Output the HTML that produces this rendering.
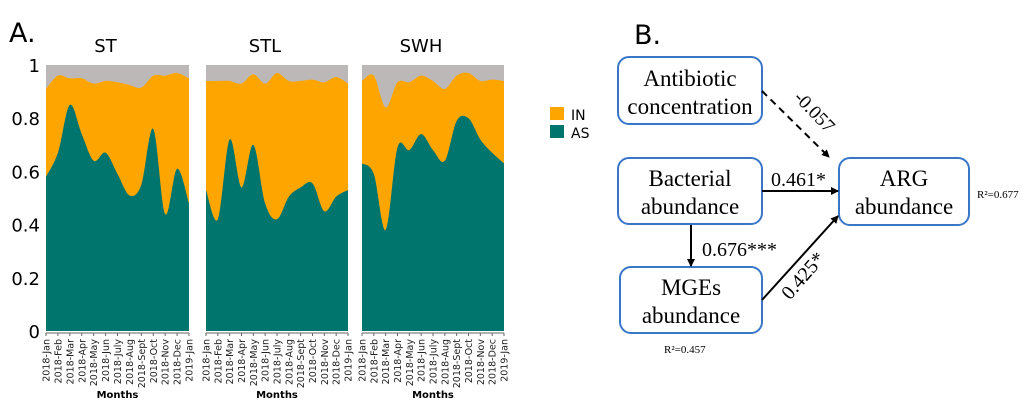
<!DOCTYPE html>
<html><head><meta charset="utf-8"><style>
html,body{margin:0;padding:0;background:#fff;width:1031px;height:406px;overflow:hidden}
svg{display:block}
.sans{font-family:"DejaVu Sans","Liberation Sans",sans-serif}
.serif{font-family:"Liberation Serif",serif}
</style></head><body>
<svg id="fig" width="1031" height="406" viewBox="0 0 1031 406">
<text x="9" y="42" class="sans" font-size="27">A.</text>
<text x="634" y="44" class="sans" font-size="27">B.</text>
<g id="chartA"></g>
<g>
<rect x="550" y="107" width="14" height="13" fill="#FFA500"/>
<text x="571" y="120" class="sans" font-size="14">IN</text>
<rect x="550" y="125" width="14" height="13" fill="#00756E"/>
<text x="571" y="138" class="sans" font-size="14">AS</text>
</g>
<g>
<defs><marker id="ah" markerWidth="8" markerHeight="8" refX="7" refY="4" orient="auto" markerUnits="userSpaceOnUse"><path d="M0,0 L8,4 L0,8 z" fill="#000"/></marker></defs>
<rect x="618" y="57" width="144" height="67" rx="11" fill="#fff" stroke="#3a76c8" stroke-width="2"/>
<text class="serif" font-size="23" text-anchor="middle"><tspan x="690" y="86">Antibiotic</tspan><tspan x="690" y="114">concentration</tspan></text>
<rect x="618" y="158" width="144" height="66" rx="11" fill="#fff" stroke="#3a76c8" stroke-width="2"/>
<text class="serif" font-size="23" text-anchor="middle"><tspan x="690" y="186">Bacterial</tspan><tspan x="690" y="214">abundance</tspan></text>
<rect x="620" y="267" width="142" height="66" rx="11" fill="#fff" stroke="#3a76c8" stroke-width="2"/>
<text class="serif" font-size="23" text-anchor="middle"><tspan x="691" y="295">MGEs</tspan><tspan x="691" y="323">abundance</tspan></text>
<rect x="839" y="158" width="130" height="67" rx="11" fill="#fff" stroke="#3a76c8" stroke-width="2"/>
<text class="serif" font-size="23" text-anchor="middle"><tspan x="904" y="186">ARG</tspan><tspan x="904" y="214">abundance</tspan></text>
<line x1="762" y1="91" x2="829" y2="157" stroke="#000" stroke-width="2" stroke-dasharray="7,5" marker-end="url(#ah)"/>
<line x1="762" y1="191" x2="838" y2="191" stroke="#000" stroke-width="2" marker-end="url(#ah)"/>
<line x1="691" y1="225" x2="691" y2="266" stroke="#000" stroke-width="2" marker-end="url(#ah)"/>
<line x1="762" y1="300" x2="838" y2="216" stroke="#000" stroke-width="2" marker-end="url(#ah)"/>
<text class="serif" font-size="19" transform="translate(810,116) rotate(46)" text-anchor="middle">-0.057</text>
<text x="771" y="186" class="serif" font-size="20">0.461*</text>
<text x="702" y="256" class="serif" font-size="20">0.676***</text>
<text class="serif" font-size="20" transform="translate(808,280) rotate(-49)" text-anchor="middle">0.425*</text>
<text x="977" y="198" class="serif" font-size="11">R²=0.677</text>
<text x="664" y="353" class="serif" font-size="11">R²=0.457</text>
</g>
</svg>
<script>
const months = ["2018-Jan","2018-Feb","2018-Mar","2018-Apr","2018-May","2018-Jun","2018-July","2018-Aug","2018-Sept","2018-Oct","2018-Nov","2018-Dec","2019-Jan"];
const panelNames = ["ST","STL","SWH"];
const asST = [0.58,0.67,0.85,0.74,0.64,0.67,0.59,0.51,0.55,0.76,0.44,0.61,0.48];
const inST = [0.91,0.96,0.95,0.95,0.93,0.94,0.935,0.925,0.915,0.96,0.96,0.97,0.95];
const asSTL = [0.53,0.42,0.72,0.54,0.70,0.48,0.42,0.505,0.54,0.555,0.45,0.505,0.53];
const inSTL = [0.94,0.94,0.94,0.93,0.965,0.93,0.97,0.94,0.94,0.945,0.935,0.955,0.93];
const asSWH = [0.63,0.59,0.38,0.69,0.68,0.74,0.68,0.64,0.79,0.80,0.72,0.67,0.63];
const inSWH = [0.94,0.96,0.84,0.935,0.935,0.96,0.94,0.91,0.96,0.97,0.94,0.945,0.94];
const yTicks = [0,0.2,0.4,0.6,0.8,1];
const yTickLabels = ["0","0.2","0.4","0.6","0.8","1"];

const NS="http://www.w3.org/2000/svg";
const g=document.getElementById('chartA');
const panels=[{x0:46,x1:189,as:asST,inn:inST},{x0:206,x1:348,as:asSTL,inn:inSTL},{x0:362,x1:504,as:asSWH,inn:inSWH}];
const yTop=65,yBot=331;
function yS(v){return yBot-(yBot-yTop)*v;}
function mk(tag,attrs){const e=document.createElementNS(NS,tag);for(const k in attrs)e.setAttribute(k,attrs[k]);return e;}
function smooth(pts){
  let d="M"+pts[0][0]+","+pts[0][1];
  for(let i=0;i<pts.length-1;i++){
    const p0=pts[Math.max(0,i-1)],p1=pts[i],p2=pts[i+1],p3=pts[Math.min(pts.length-1,i+2)];
    const c1=[p1[0]+(p2[0]-p0[0])/6,p1[1]+(p2[1]-p0[1])/6];
    const c2=[p2[0]-(p3[0]-p1[0])/6,p2[1]-(p3[1]-p1[1])/6];
    d+=" C"+c1[0]+","+c1[1]+" "+c2[0]+","+c2[1]+" "+p2[0]+","+p2[1];
  }
  return d;
}
yTicks.forEach((t,i)=>{
  const tx=mk('text',{x:40,y:yS(t)+7,'text-anchor':'end','font-size':'18',class:'sans'});
  
  
  tx.textContent=yTickLabels[i];g.appendChild(tx);
});
panels.forEach((p,pi)=>{
  const xS=i=>p.x0+(p.x1-p.x0)*i/(months.length-1);
  const pg=mk('g',{});
  
  
  g.appendChild(pg);
  const title=mk('text',{x:(p.x0+p.x1)/2-12,y:52,'text-anchor':'middle','font-size':'18',class:'sans'});
  
  
  title.textContent=panelNames[pi];pg.appendChild(title);
  const gray=mk('rect',{x:p.x0,y:yTop,width:p.x1-p.x0,height:yBot-yTop,fill:'#BDB8B8'});
  
  
  pg.appendChild(gray);
  const inPts=p.inn.map((v,i)=>[xS(i),yS(v)]);
  const inPath=mk('path',{d:smooth(inPts)+" L"+p.x1+","+yBot+" L"+p.x0+","+yBot+" Z",fill:'#FFA500'});
  
  
  pg.appendChild(inPath);
  const asPts=p.as.map((v,i)=>[xS(i),yS(v)]);
  const asPath=mk('path',{d:smooth(asPts)+" L"+p.x1+","+yBot+" L"+p.x0+","+yBot+" Z",fill:'#00756E'});
  
  
  pg.appendChild(asPath);
  pg.appendChild(mk('line',{x1:p.x0,y1:yBot+2,x2:p.x1,y2:yBot+2,stroke:'#666','stroke-width':1}));
  months.forEach((m,i)=>{
    const x=xS(i);
    pg.appendChild(mk('line',{x1:x,y1:yBot+2,x2:x,y2:yBot+5,stroke:'#666','stroke-width':1}));
    const t=mk('text',{transform:'translate('+(x+3.5)+','+(yBot+8)+') rotate(-90)','text-anchor':'end','font-size':'9.5',class:'sans',fill:'#222'});
    
    
    t.textContent=m;pg.appendChild(t);
  });
  const xl=mk('text',{x:(p.x0+p.x1)/2,y:398,'text-anchor':'middle','font-size':'10','font-weight':'bold',class:'sans'});
  
  
  xl.textContent='Months';pg.appendChild(xl);
});
</script>
</body></html>
